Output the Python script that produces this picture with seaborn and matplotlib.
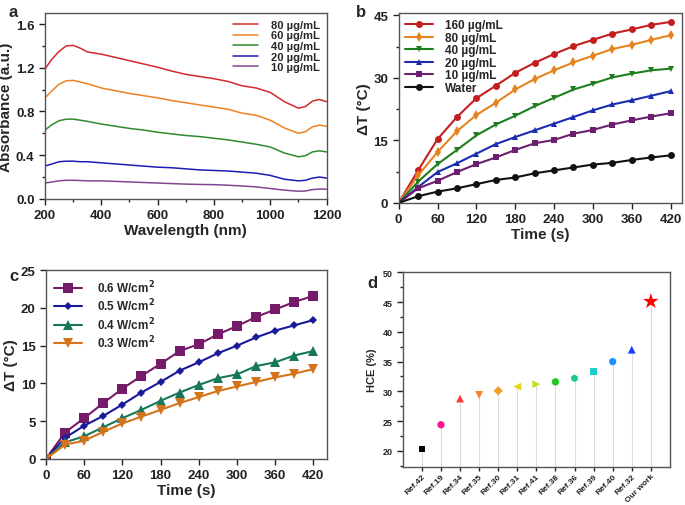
import matplotlib
matplotlib.use("Agg")
import matplotlib.pyplot as plt
import numpy as np
import pandas as pd
import seaborn as sns
from matplotlib.ticker import AutoMinorLocator

# ---------------- data ----------------
# (a) absorbance spectra
wavelength = [200, 225, 250, 275, 300, 325, 350, 400, 450, 500, 550, 600, 650,
              700, 750, 800, 850, 900, 950, 1000, 1050, 1100, 1125, 1150, 1175, 1200]
abs_80 = [1.19, 1.28, 1.35, 1.40, 1.405, 1.38, 1.345, 1.325, 1.295, 1.265, 1.235, 1.205, 1.17,
          1.14, 1.12, 1.10, 1.075, 1.035, 1.015, 0.975, 0.89, 0.83, 0.845, 0.895, 0.91, 0.89]
abs_60 = [0.925, 0.99, 1.05, 1.08, 1.085, 1.07, 1.055, 1.015, 0.99, 0.965, 0.945, 0.925, 0.90,
          0.88, 0.86, 0.84, 0.82, 0.785, 0.765, 0.72, 0.65, 0.60, 0.615, 0.66, 0.675, 0.665]
abs_40 = [0.63, 0.68, 0.715, 0.73, 0.73, 0.72, 0.71, 0.685, 0.665, 0.645, 0.63, 0.61, 0.595,
          0.58, 0.57, 0.555, 0.54, 0.52, 0.50, 0.475, 0.42, 0.385, 0.395, 0.43, 0.44, 0.43]
abs_20 = [0.30, 0.32, 0.34, 0.345, 0.345, 0.34, 0.34, 0.33, 0.32, 0.31, 0.30, 0.29, 0.285,
          0.275, 0.265, 0.26, 0.255, 0.245, 0.235, 0.215, 0.18, 0.165, 0.17, 0.19, 0.20, 0.19]
abs_10 = [0.145, 0.155, 0.165, 0.17, 0.17, 0.168, 0.165, 0.165, 0.16, 0.155, 0.15, 0.145, 0.14,
          0.135, 0.132, 0.13, 0.125, 0.118, 0.11, 0.095, 0.08, 0.07, 0.072, 0.085, 0.09, 0.088]

# (b) heating curves at different concentrations
time_s = [0, 30, 60, 90, 120, 150, 180, 210, 240, 270, 300, 330, 360, 390, 420]
dt_160 = [0, 7.8, 15.3, 20.6, 25.1, 28.1, 31.2, 33.6, 35.7, 37.6, 39.1, 40.6, 41.6, 42.7, 43.4]
dt_80 = [0, 6.6, 12.2, 17.2, 21.1, 24.0, 27.2, 29.7, 31.8, 33.7, 35.3, 36.9, 37.9, 39.1, 40.2]
dt_40 = [0, 5.1, 9.3, 12.7, 16.2, 18.8, 20.9, 23.2, 25.2, 27.2, 28.6, 30.1, 31.0, 31.8, 32.2]
dt_20 = [0, 3.8, 7.4, 9.5, 11.8, 14.1, 15.8, 17.4, 19.0, 20.6, 22.2, 23.6, 24.6, 25.7, 26.8]
dt_10 = [0, 3.5, 5.3, 7.4, 9.3, 10.9, 12.7, 14.3, 15.1, 16.6, 17.5, 18.8, 19.8, 20.7, 21.5]
dt_water = [0, 1.6, 2.7, 3.5, 4.5, 5.5, 6.1, 7.1, 7.8, 8.5, 9.2, 9.6, 10.3, 10.9, 11.4]

# (c) heating curves at different power densities
dt_p06 = [0, 3.5, 5.4, 7.4, 9.3, 11.0, 12.6, 14.3, 15.2, 16.5, 17.6, 18.8, 19.8, 20.8, 21.6]
dt_p05 = [0, 2.8, 4.4, 5.7, 7.2, 8.8, 10.2, 11.7, 12.8, 14.0, 15.0, 16.1, 17.0, 17.7, 18.4]
dt_p04 = [0, 2.2, 3.0, 4.2, 5.4, 6.5, 7.7, 8.8, 9.8, 10.7, 11.2, 12.3, 12.8, 13.7, 14.3]
dt_p03 = [0, 1.9, 2.4, 3.6, 4.7, 5.6, 6.5, 7.4, 8.2, 9.0, 9.6, 10.2, 10.8, 11.3, 11.9]

# (d) HCE comparison
refs = ["Ref.42", "Ref.19", "Ref.34", "Ref.35", "Ref.30", "Ref.31", "Ref.41",
        "Ref.38", "Ref.36", "Ref.39", "Ref.40", "Ref.32", "Our work"]
hce = [20.3, 24.4, 28.8, 29.4, 30.1, 30.8, 31.2, 31.6, 32.2, 33.4, 35.0, 37.0, 45.1]

# ---------------- styling ----------------
sns.set_style("ticks")
plt.rcParams["font.family"] = ["Liberation Sans", "DejaVu Sans"]
plt.rcParams["font.weight"] = "bold"
plt.rcParams["axes.labelweight"] = "bold"
plt.rcParams["axes.edgecolor"] = "#555555"
plt.rcParams["axes.linewidth"] = 1.0
plt.rcParams["xtick.direction"] = "out"
plt.rcParams["ytick.direction"] = "out"

fig = plt.figure(figsize=(6.85, 5.06), dpi=100)
ax_a = fig.add_axes([0.0657, 0.605, 0.411, 0.367])
ax_b = fig.add_axes([0.582, 0.597, 0.414, 0.375])
ax_c = fig.add_axes([0.067, 0.091, 0.410, 0.373])
ax_d = fig.add_axes([0.588, 0.075, 0.390, 0.385])


def style_ax(ax, fs=9.5):
    ax.tick_params(labelsize=fs, width=1, length=4, colors="#222222")
    ax.tick_params(which="minor", length=2.5, width=1)
    for lab in ax.get_xticklabels() + ax.get_yticklabels():
        lab.set_fontweight("bold")


# ---------------- (a) ----------------
spectra = [("80 µg/mL", abs_80, "#d42a2a"), ("60 µg/mL", abs_60, "#ee8122"),
           ("40 µg/mL", abs_40, "#2e8b2e"), ("20 µg/mL", abs_20, "#1c1cb4"),
           ("10 µg/mL", abs_10, "#83458f")]
for lab, vals, col in spectra:
    sns.lineplot(x=wavelength, y=vals, ax=ax_a, color=col, lw=1.1, label=lab)
ax_a.set_xlim(200, 1200)
ax_a.set_ylim(0, 1.7)
ax_a.set_xticks([200, 400, 600, 800, 1000, 1200])
ax_a.set_yticks([0.0, 0.4, 0.8, 1.2, 1.6])
ax_a.set_yticklabels(["0.0", "0.4", "0.8", "1.2", "1.6"])
ax_a.xaxis.set_minor_locator(AutoMinorLocator(2))
ax_a.yaxis.set_minor_locator(AutoMinorLocator(2))
ax_a.set_xlabel("Wavelength (nm)", fontsize=11, labelpad=1)
ax_a.set_ylabel("Absorbance (a.u.)", fontsize=11, labelpad=2)
style_ax(ax_a)
ax_a.legend(loc="upper right", frameon=False, fontsize=8, handlelength=2.2,
            labelspacing=0.05, borderaxespad=0.2, handletextpad=1.2)

# ---------------- (b) ----------------
heating = [("160 µg/mL", dt_160, "#c41f1f", "o"), ("80 µg/mL", dt_80, "#e5841e", "d"),
           ("40 µg/mL", dt_40, "#1f7f1f", "v"), ("20 µg/mL", dt_20, "#1c2cb0", "^"),
           ("10 µg/mL", dt_10, "#6a1f6f", "s"), ("Water", dt_water, "#111111", "o")]
for lab, vals, col, mk in heating:
    sns.lineplot(x=time_s, y=vals, ax=ax_b, color=col, marker=mk, markersize=5,
                 markeredgewidth=0, lw=1.5, label=lab)
ax_b.set_xlim(0, 438)
ax_b.set_ylim(0, 45.5)
ax_b.set_xticks(range(0, 421, 60))
ax_b.set_yticks([0, 15, 30, 45])
ax_b.yaxis.set_minor_locator(AutoMinorLocator(2))
ax_b.set_xlabel("Time (s)", fontsize=11, labelpad=1)
ax_b.set_ylabel("ΔT (°C)", fontsize=11, labelpad=2)
style_ax(ax_b)
ax_b.legend(loc="upper left", frameon=False, fontsize=8.5, handlelength=2.4,
            labelspacing=0.05, borderaxespad=0.1, handletextpad=1.0)

# ---------------- (c) ----------------
power = [("0.6 W/cm$^2$", dt_p06, "#761a6a", "s", 7), ("0.5 W/cm$^2$", dt_p05, "#19199a", "D", 4.5),
         ("0.4 W/cm$^2$", dt_p04, "#17775a", "^", 6.5), ("0.3 W/cm$^2$", dt_p03, "#d5731a", "v", 6.5)]
for lab, vals, col, mk, ms in power:
    sns.lineplot(x=time_s, y=vals, ax=ax_c, color=col, marker=mk, markersize=ms,
                 markeredgewidth=0, lw=1.5, label=lab)
ax_c.set_xlim(0, 441)
ax_c.set_ylim(0, 25)
ax_c.set_xticks(range(0, 421, 60))
ax_c.set_yticks(range(0, 26, 5))
ax_c.set_xlabel("Time (s)", fontsize=11, labelpad=1)
ax_c.set_ylabel("ΔT (°C)", fontsize=11, labelpad=2)
style_ax(ax_c)
ax_c.legend(loc="upper left", frameon=False, fontsize=8.5, handlelength=2.4,
            labelspacing=0.15, borderaxespad=0.3, handletextpad=1.2)

# ---------------- (d) ----------------
d_colors = ["#000000", "#ff1493", "#ff3a3a", "#ff7f2a", "#f2a020", "#e5d21a", "#b5e61a",
            "#1ec81e", "#18cc88", "#20cccc", "#1e90ff", "#1a3cff", "#ff0000"]
d_markers = ["s", "o", "^", "v", "D", "<", ">", "o", "h", "s", "o", "^", "*"]
d_sizes = [22, 28, 32, 32, 22, 32, 32, 28, 30, 26, 28, 32, 140]
xpos = np.arange(len(refs))
ax_d.vlines(xpos, 17.3, hce, colors="#dddddd", lw=0.8, zorder=1)
for i, (r, v) in enumerate(zip(refs, hce)):
    sns.scatterplot(x=[i], y=[v], ax=ax_d, marker=d_markers[i], color=d_colors[i],
                    s=d_sizes[i], edgecolor="none", zorder=3)
ax_d.set_xlim(-1, 13)
ax_d.set_ylim(17.3, 50)
ax_d.set_xticks(xpos)
ax_d.set_xticklabels(refs, rotation=45, ha="right", rotation_mode="anchor")
ax_d.set_yticks(range(20, 51, 5))
ax_d.yaxis.set_minor_locator(AutoMinorLocator(2))
ax_d.set_ylabel("HCE (%)", fontsize=8)
style_ax(ax_d, fs=6.5)
ax_d.tick_params(axis="x", length=3, pad=1, labelsize=6)

# panel letters
for lab, x, y in [("a", 0.012, 0.975), ("b", 0.52, 0.975), ("c", 0.014, 0.453), ("d", 0.537, 0.44)]:
    fig.text(x, y, lab, fontsize=12, fontweight="bold", va="center")

fig.savefig("out.png", dpi=100)
